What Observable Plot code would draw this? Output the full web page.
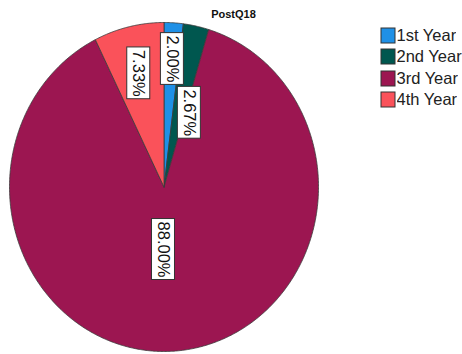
<!DOCTYPE html>
<html><head><meta charset="utf-8">
<script src="https://cdn.jsdelivr.net/npm/d3@7"></script>
<script src="https://cdn.jsdelivr.net/npm/@observablehq/plot@0.6"></script>
<style>
body{margin:0;background:#fff;font-family:"Liberation Sans",Arial,sans-serif;}
#wrap{position:relative;width:462px;height:354px;overflow:hidden;background:#fff;}
#legend{position:absolute;left:380.5px;top:24.5px;white-space:nowrap;}
#legend .lg-swatches{font-family:"Liberation Sans",Arial,sans-serif;font-size:16.5px;margin:0 !important;min-height:0;color:#222;display:block !important;columns:auto !important;}
#legend .lg-swatch{font-size:16.5px;height:21.5px;line-height:21.5px;box-sizing:border-box;padding:0 !important;margin:0 !important;display:flex;align-items:center;white-space:nowrap;}
#legend .lg-swatch svg{margin-right:2px !important;overflow:visible;flex:none;}
#legend .lg-swatch rect{stroke:#333;stroke-width:1px;}
</style></head><body><div id="wrap"><div id="legend"></div></div>
<script>
const title = "PostQ18";
const categories = ["1st Year", "2nd Year", "3rd Year", "4th Year"];
const percents = [2.00, 2.67, 88.00, 7.33];
const labels = ["2.00%", "2.67%", "88.00%", "7.33%"];
const colors = ["#1f90e6", "#00574f", "#9c1651", "#fa525a"];
// label layout (degrees clockwise from top, fraction of radius)
const labelAngle = [4, 20, 180.5, 346.7];
const labelRadius = [0.78, 0.48, 0.38, 0.71];

const W = 462, H = 354, CX = 163.5, CY = 186.5, RX = 154.5, RY = 164.5;
const FS = 16.5;

const data = categories.map((c, i) => ({category: c, value: percents[i], label: labels[i]}));
const arcs = d3.pie().sort(null).value(d => d.value).startAngle(0).endAngle(2 * Math.PI)(data);
const pts = [];
arcs.forEach(a => {
  const c = a.data.category;
  const n = Math.max(2, Math.ceil((a.endAngle - a.startAngle) / (Math.PI / 360)));
  pts.push({category: c, x: 0, y: 0});
  for (let k = 0; k <= n; k++) {
    const t = a.startAngle + (a.endAngle - a.startAngle) * k / n;
    pts.push({category: c, x: Math.sin(t), y: -Math.cos(t)});
  }
  pts.push({category: c, x: 0, y: 0});
});

const ctx = document.createElement("canvas").getContext("2d");
ctx.font = `${FS}px "Liberation Sans", Arial, sans-serif`;
const labelData = data.map((d, i) => {
  const t = labelAngle[i] * Math.PI / 180;
  const x = labelRadius[i] * Math.sin(t), y = -labelRadius[i] * Math.cos(t);
  const w = ctx.measureText(d.label).width;
  const hh = (w / 2 + 2.5) / RY, hw = 11.5 / RX;
  return {label: d.label, x, y, x1: x - hw, x2: x + hw, y1: y - hh, y2: y + hh};
});

const chart = Plot.plot({
  width: W, height: H, margin: 0,
  x: {domain: [-1, 1], range: [CX - RX, CX + RX], axis: null},
  y: {domain: [-1, 1], range: [CY - RY, CY + RY], axis: null},
  color: {domain: categories, range: colors},
  style: {fontFamily: '"Liberation Sans", Arial, sans-serif', background: "#fff", overflow: "visible"},
  marks: [
    Plot.line(pts, {x: "x", y: "y", z: "category", fill: "category", stroke: "#3a3a3a", strokeWidth: 0.8, strokeLinejoin: "round", curve: "linear"}),
    Plot.rect(labelData, {x1: "x1", x2: "x2", y1: "y1", y2: "y2", fill: "white", stroke: "#333", strokeWidth: 1}),
    Plot.text(labelData, {x: "x", y: "y", text: "label", rotate: 90, fontSize: FS, fill: "#111", textAnchor: "middle", lineAnchor: "middle"}),
    Plot.text([title], {frameAnchor: "top-left", dx: 233, dy: 14.2, text: d => d, fontWeight: "bold", fontSize: 11, textAnchor: "middle", lineAnchor: "middle", fill: "#111"})
  ]
});
document.getElementById("wrap").prepend(chart);

const legend = Plot.legend({
  color: {domain: categories, range: colors},
  legend: "swatches", columns: 1, swatchWidth: 14, swatchHeight: 15, className: "lg"
});
document.getElementById("legend").appendChild(legend);
</script>
</body></html>
